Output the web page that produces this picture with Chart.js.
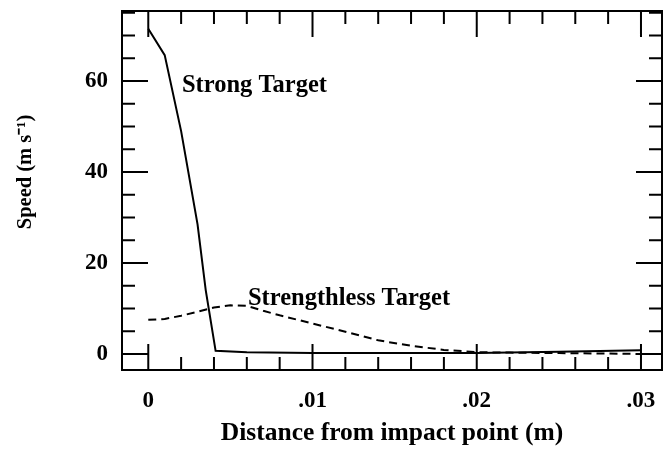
<!DOCTYPE html>
<html>
<head>
<meta charset="utf-8">
<script src="https://cdn.jsdelivr.net/npm/chart.js@4.4.0/dist/chart.umd.min.js"></script>
<style>
    html, body { margin: 0; padding: 0; background: #fff; }
    #wrap { width: 663px; height: 454px; }
</style>
</head>
<body>
<div id="wrap"><canvas id="speedChart" width="663" height="454"></canvas></div>
<script>
// distance from impact point (m)
var strongX = [0, 0.001, 0.002, 0.003, 0.0035, 0.0041, 0.006, 0.010, 0.015, 0.020, 0.025, 0.030];
var strongY = [71.5, 65.7, 49, 28.5, 14, 0.7, 0.4, 0.2, 0.2, 0.2, 0.5, 0.8];

var weakX = [0, 0.001, 0.002, 0.003, 0.004, 0.005, 0.006, 0.007, 0.008, 0.009, 0.010, 0.012, 0.014, 0.016, 0.018, 0.020, 0.022, 0.025, 0.028, 0.030];
var weakY = [7.5, 7.7, 8.4, 9.3, 10.2, 10.7, 10.6, 9.5, 8.5, 7.6, 6.7, 4.9, 3.0, 1.8, 0.9, 0.4, 0.3, 0.2, 0.1, 0.0];

var xTicks = [0, 0.01, 0.02, 0.03];
var yTicks = [0, 20, 40, 60];

var serif = "'Liberation Serif', 'Times New Roman', serif";

function toPoints(xs, ys) {
    var pts = [];
    for (var i = 0; i < xs.length; i++) {
        pts.push({ x: xs[i], y: ys[i] });
    }
    return pts;
}

function fmtX(v) {
    if (v === 0) return '0';
    return v.toFixed(2).replace(/^0/, '');
}

// box, inward ticks on all four sides, titles and curve labels
const framePlugin = {
    id: 'frame',
    afterDraw(chart) {
        const ctx = chart.ctx;
        const a = chart.chartArea;
        const xs = chart.scales.x;
        const ys = chart.scales.y;
        const major = 26, minor = 13;
        ctx.save();
        ctx.strokeStyle = '#000';
        ctx.lineWidth = 2;
        ctx.strokeRect(a.left, a.top, a.right - a.left, a.bottom - a.top);

        ctx.beginPath();
        for (let i = 0; i <= 15; i++) {
            const v = i * 0.002;
            const len = (i % 5 === 0) ? major : minor;
            const px = xs.getPixelForValue(v);
            ctx.moveTo(px, a.bottom); ctx.lineTo(px, a.bottom - len);
            ctx.moveTo(px, a.top); ctx.lineTo(px, a.top + len);
        }
        for (let i = 0; i <= 15; i++) {
            const v = i * 5;
            const len = (i % 4 === 0) ? major : minor;
            const py = ys.getPixelForValue(v);
            ctx.moveTo(a.left, py); ctx.lineTo(a.left + len, py);
            ctx.moveTo(a.right, py); ctx.lineTo(a.right - len, py);
        }
        ctx.stroke();

        ctx.fillStyle = '#000';
        ctx.font = 'bold 24.5px ' + serif;
        ctx.textAlign = 'left';
        ctx.textBaseline = 'alphabetic';
        ctx.fillText('Strong Target', xs.getPixelForValue(0.00205), ys.getPixelForValue(57.5));
        ctx.fillText('Strengthless Target', xs.getPixelForValue(0.00607), ys.getPixelForValue(10.8));

        ctx.textAlign = 'center';
        ctx.font = 'bold 25.5px ' + serif;
        ctx.fillText('Distance from impact point (m)', (a.left + a.right) / 2, 440);

        ctx.translate(26, 172);
        ctx.rotate(-Math.PI / 2);
        ctx.font = 'bold 20.5px ' + serif;
        ctx.textBaseline = 'middle';
        ctx.fillText('Speed (m s\u207B\u00B9)', 0, 0);
        ctx.restore();
    }
};

const config = {
    type: 'line',
    data: {
        datasets: [
            {
                label: 'Strong Target',
                data: toPoints(strongX, strongY),
                borderColor: '#000',
                borderWidth: 2,
                pointRadius: 0,
                tension: 0,
                fill: false
            },
            {
                label: 'Strengthless Target',
                data: toPoints(weakX, weakY),
                borderColor: '#000',
                borderWidth: 2,
                borderDash: [8, 5],
                pointRadius: 0,
                tension: 0,
                fill: false
            }
        ]
    },
    options: {
        responsive: false,
        animation: false,
        layout: { padding: { top: 11, right: 1, left: 0, bottom: 0 } },
        plugins: {
            legend: { display: false },
            tooltip: { enabled: false }
        },
        scales: {
            x: {
                type: 'linear',
                min: -0.0016,
                max: 0.03128,
                grid: { display: false, drawTicks: false },
                border: { display: false },
                afterBuildTicks: function (scale) {
                    scale.ticks = xTicks.map(function (v) { return { value: v }; });
                },
                afterFit: function (scale) {
                    scale.height = 84;
                    scale.paddingLeft = 0;
                    scale.paddingRight = 0;
                },
                ticks: {
                    color: '#000',
                    padding: 17,
                    maxRotation: 0,
                    font: { family: serif, size: 23, weight: 'bold' },
                    callback: function (v) { return fmtX(v); }
                }
            },
            y: {
                type: 'linear',
                min: -3.52,
                max: 75.4,
                grid: { display: false, drawTicks: false },
                border: { display: false },
                afterBuildTicks: function (scale) {
                    scale.ticks = yTicks.map(function (v) { return { value: v }; });
                },
                afterFit: function (scale) {
                    scale.width = 122;
                    scale.paddingTop = 0;
                    scale.paddingBottom = 0;
                },
                ticks: {
                    color: '#000',
                    padding: 14,
                    font: { family: serif, size: 23, weight: 'bold' }
                }
            }
        }
    },
    plugins: [framePlugin]
};

new Chart('speedChart', config);
</script>
</body>
</html>
